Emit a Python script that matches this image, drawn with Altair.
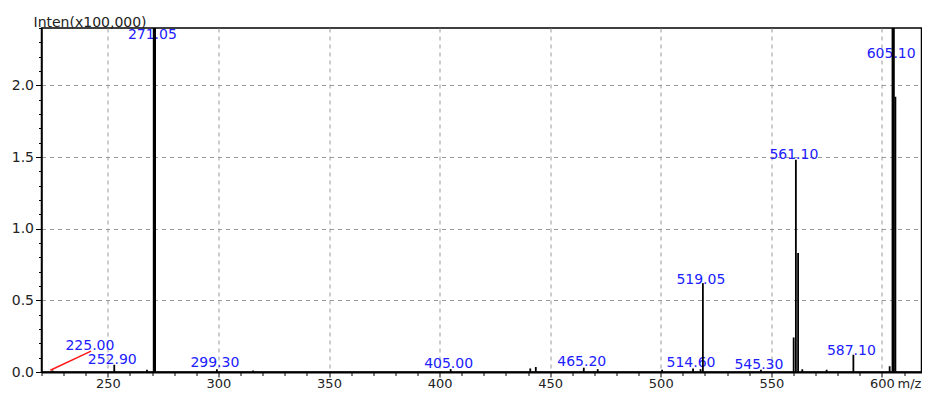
import altair as alt
import pandas as pd

# ---- peaks (m/z, intensity in x100,000) ----
peak_mz = [225.00, 252.90, 267.70, 271.05, 299.30, 315.70, 405.00, 441.00, 443.50,
           465.20, 471.50, 500.60, 514.60, 518.00, 519.05, 545.30, 560.10, 561.10,
           562.10, 564.00, 575.00, 587.10, 603.50, 605.10, 606.10]
peak_int = [0.010, 0.050, 0.015, 2.600, 0.020, 0.010, 0.020, 0.025, 0.035,
            0.030, 0.020, 0.015, 0.025, 0.020, 0.620, 0.015, 0.240, 1.480,
            0.830, 0.020, 0.015, 0.120, 0.040, 2.600, 1.920]

# ---- peak annotations ----
label_text = ["271.05", "605.10", "561.10", "519.05", "587.10", "252.90",
              "299.30", "405.00", "465.20", "514.60", "545.30", "225.00"]
label_x = [271.05, 605.10, 561.10, 519.05, 587.10, 252.90,
           299.30, 405.00, 465.20, 514.60, 545.30, 242.80]
label_y = [2.325, 2.190, 1.485, 0.614, 0.120, 0.056,
           0.035, 0.028, 0.042, 0.035, 0.021, 0.153]

# red leader line for the 225.00 label
lead_x1 = [224.0]
lead_y1 = [0.012]
lead_x2 = [242.4]
lead_y2 = [0.146]

x_ticks = list(range(220, 611, 10))
y_ticks = [round(i * 0.1, 1) for i in range(25)]

peaks = pd.DataFrame({"mz": peak_mz, "inten": peak_int})
labels = pd.DataFrame({"mz": label_x, "inten": label_y, "txt": label_text})
lead = pd.DataFrame({"mz": lead_x1, "inten": lead_y1, "mz2": lead_x2, "inten2": lead_y2})

FONT = "DejaVu Sans"
X_MAJOR = "datum.value % 50 === 0"
Y_MAJOR = "abs(datum.value * 2 - round(datum.value * 2)) < 0.001"

x_axis = alt.Axis(
    values=x_ticks,
    labelExpr=f"{X_MAJOR} ? datum.label : ''",
    labelOverlap=False, labelFlush=False,
    labelFont=FONT, labelFontSize=13, labelColor="#222222", labelPadding=0.5,
    tickSize={"condition": {"test": X_MAJOR, "value": 5}, "value": 3.5},
    tickColor="black", tickWidth=1,
    grid=True, gridDash=[4, 4], gridColor="#9a9a9a", gridWidth=1,
    gridOpacity={"condition": {"test": X_MAJOR, "value": 1}, "value": 0},
    domainColor="black", domainWidth=2,
    title="m/z", titleX=855.5, titleY=15.8, titleAlign="left",
    titleBaseline="alphabetic", titleFont=FONT, titleFontSize=13,
    titleFontWeight="normal", titleColor="#222222",
)
y_axis = alt.Axis(
    values=y_ticks,
    labelExpr=f"{Y_MAJOR} ? format(datum.value, '.1f') : ''",
    labelOverlap=False, labelFlush=False,
    labelFont=FONT, labelFontSize=14, labelColor="#222222", labelPadding=2,
    tickSize={"condition": {"test": Y_MAJOR, "value": 6}, "value": 3},
    tickColor="black", tickWidth=1,
    grid=True, gridDash=[4, 4], gridColor="#9a9a9a", gridWidth=1,
    gridOpacity={"condition": {"test": Y_MAJOR, "value": 1}, "value": 0},
    domainColor="black", domainWidth=1.5,
    title="Inten(x100,000)", titleAngle=0, titleX=-8.5, titleY=-2,
    titleAlign="left", titleBaseline="alphabetic", titleFont=FONT,
    titleFontSize=14, titleFontWeight="normal", titleColor="#222222",
)
x_scale = alt.Scale(domain=[220, 617.9], nice=False, zero=False)
y_scale = alt.Scale(domain=[0, 2.4], nice=False, zero=False)

text_layer = alt.Chart(labels).mark_text(
    font=FONT, fontSize=14, color="#2020ff", align="center",
    baseline="alphabetic", dx=-2,
).encode(
    x=alt.X("mz:Q", scale=x_scale, axis=x_axis),
    y=alt.Y("inten:Q", scale=y_scale, axis=y_axis),
    text="txt:N",
)

peak_layer = alt.Chart(peaks).mark_rule(clip=True, color="black").encode(
    x=alt.X("mz:Q", scale=x_scale, axis=x_axis),
    y=alt.Y("inten:Q", scale=y_scale, axis=y_axis),
    y2=alt.datum(0),
    strokeWidth=alt.condition("datum.inten > 2", alt.value(3.2), alt.value(1.8)),
)

lead_layer = alt.Chart(lead).mark_rule(color="#ff1a1a", strokeWidth=1.5).encode(
    x=alt.X("mz:Q", scale=x_scale, axis=x_axis),
    y=alt.Y("inten:Q", scale=y_scale, axis=y_axis),
    x2="mz2:Q",
    y2="inten2:Q",
)

chart = alt.layer(text_layer, peak_layer, lead_layer).properties(
    width=880, height=344,
    autosize=alt.AutoSizeParams(type="none"),
    padding={"left": 33.5, "top": 20, "right": 0.5, "bottom": 20},
    background="white",
).configure_view(stroke="black", strokeWidth=1.5)

chart.save("out.html", embed_options={"renderer": "svg", "actions": False})
